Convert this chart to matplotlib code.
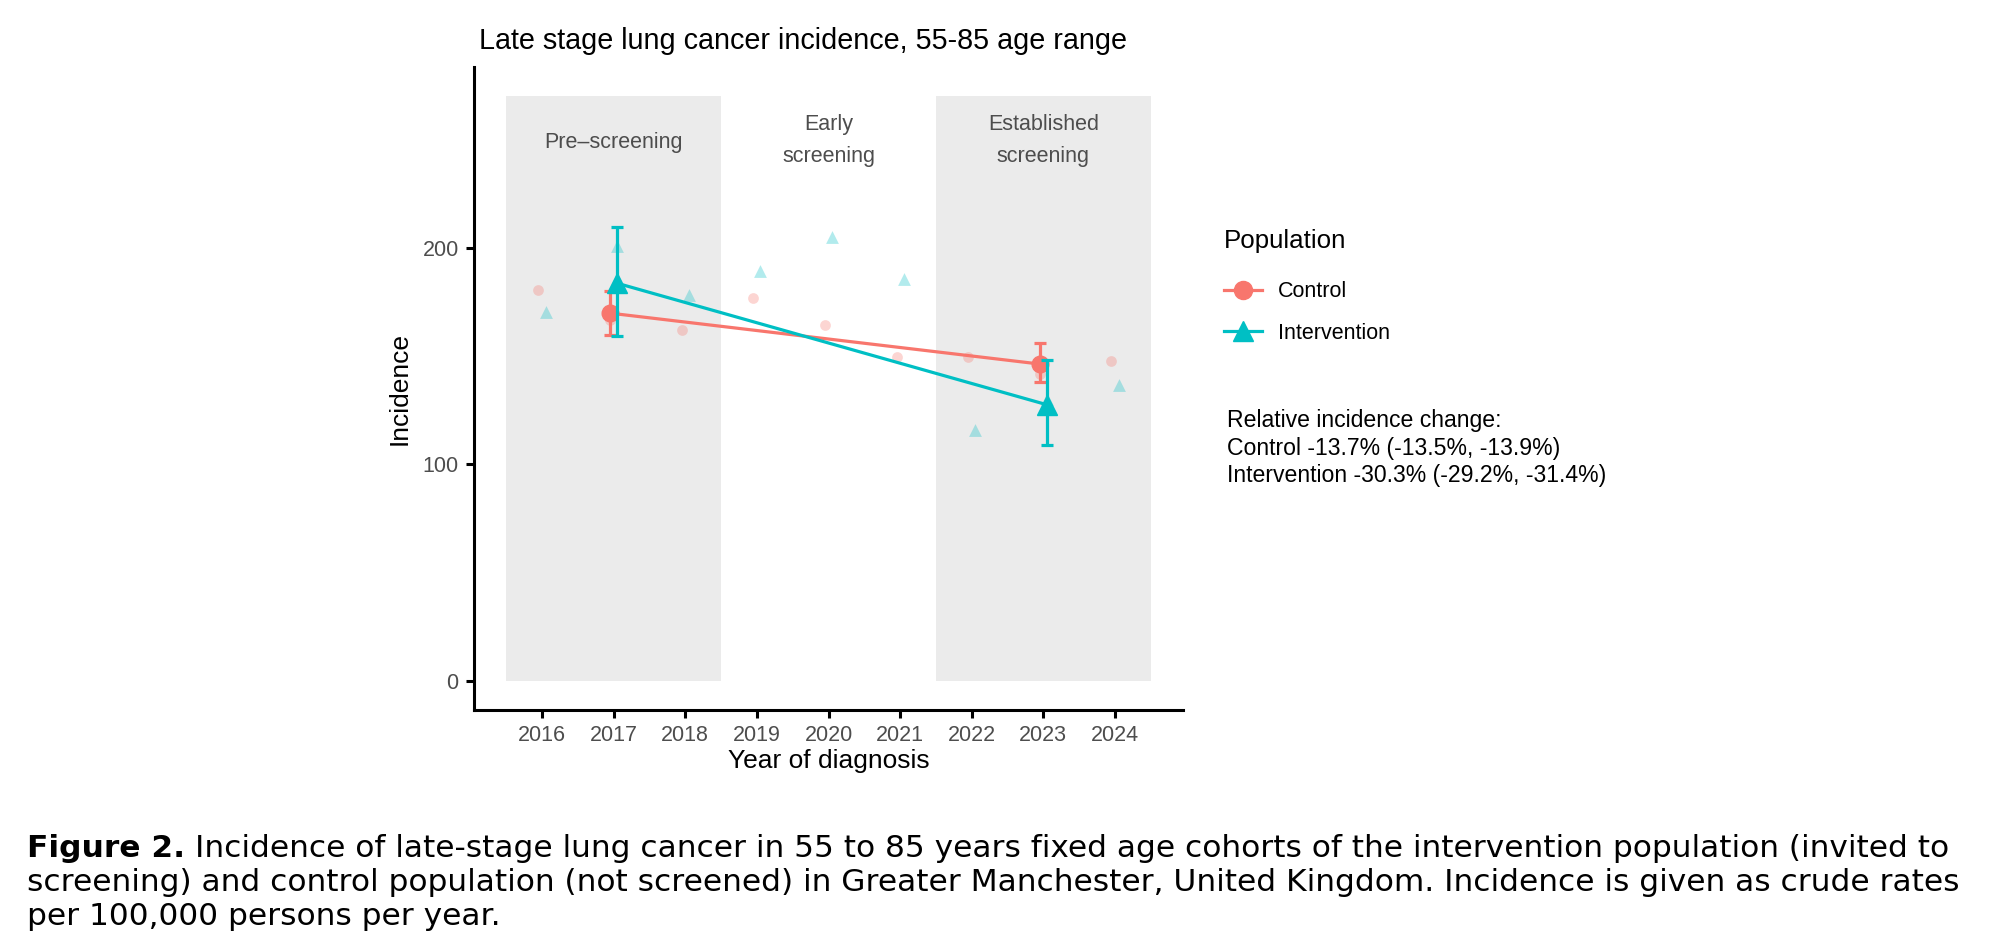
import matplotlib
matplotlib.use("Agg")
import matplotlib.pyplot as plt
from matplotlib.lines import Line2D

plt.rcParams['font.family'] = ['Liberation Sans', 'DejaVu Sans']

# yearly crude incidence (per 100,000)
years = [2016, 2017, 2018, 2019, 2020, 2021, 2022, 2023, 2024]
control = [180.6, 166.6, 162.2, 176.9, 164.2, 149.4, 149.4, 141.7, 147.8]
intervention = [170.5, 201.0, 178.4, 189.2, 205.2, 185.6, 115.7, 130.0, 136.7]

# period means with 95% CI
period_years = [2017, 2023]
control_mean = [169.8, 146.3]
control_lo = [159.9, 137.8]
control_hi = [180.2, 155.9]
interv_mean = [183.6, 127.5]
interv_lo = [159.1, 109.0]
interv_hi = [209.6, 148.1]

# shaded periods
periods = [(2015.5, 2018.5), (2021.5, 2024.5)]
period_labels = ["Pre\u2013screening", "Early\nscreening", "Established\nscreening"]
period_label_x = [2017, 2020, 2023]
period_label_y = [248.5, 249.5, 249.5]

c_col = "#F8766D"
i_col = "#00BFC4"
dodge = 0.05

W, H = 2002, 952
fig = plt.figure(figsize=(W / 100, H / 100), dpi=100)
ax = fig.add_axes([474 / W, (H - 710) / H, (1183 - 474) / W, (710 - 67) / H])

for a, b in periods:
    ax.fill_between([a, b], 0, 270, color="#EBEBEB", lw=0, zorder=0)

for lx, ly, lab in zip(period_label_x, period_label_y, period_labels):
    ax.text(lx, ly, lab, ha="center", va="center", fontsize=15.5, color="#4D4D4D",
            linespacing=1.72)

# faint yearly points
ax.scatter([y - dodge for y in years], control, s=60, color=c_col, alpha=0.3, lw=0, zorder=2)
ax.scatter([y + dodge for y in years], intervention, s=85, marker="^", color=i_col, alpha=0.3,
           lw=0, zorder=2)

# period means + lines
cx = [y - dodge for y in period_years]
ix = [y + dodge for y in period_years]
ax.plot(cx, control_mean, color=c_col, lw=2.3, zorder=3)
ax.plot(ix, interv_mean, color=i_col, lw=2.3, zorder=3)
ax.errorbar(cx, control_mean,
            yerr=[[m - l for m, l in zip(control_mean, control_lo)],
                  [h - m for m, h in zip(control_mean, control_hi)]],
            fmt="o", color=c_col, ms=12, elinewidth=2.3, capsize=4, capthick=2.3, zorder=4)
ax.errorbar(ix, interv_mean,
            yerr=[[m - l for m, l in zip(interv_mean, interv_lo)],
                  [h - m for m, h in zip(interv_mean, interv_hi)]],
            fmt="^", color=i_col, ms=14, elinewidth=2.3, capsize=4, capthick=2.3, zorder=5)

ax.set_xlim(2015.05, 2024.95)
ax.set_ylim(-13.5, 283.5)
ax.set_xticks(years)
ax.set_yticks([0, 100, 200])
for s in ["top", "right"]:
    ax.spines[s].set_visible(False)
for s in ["left", "bottom"]:
    ax.spines[s].set_linewidth(2.2)
ax.tick_params(width=2.2, length=6, labelsize=15.5, labelcolor="#4D4D4D", pad=5)
ax.set_xlabel("Year of diagnosis", fontsize=19, labelpad=2)
ax.set_ylabel("Incidence", fontsize=19, labelpad=8)
ax.set_facecolor("white")

fig.text(479 / W, 1 - 41 / H, "Late stage lung cancer incidence, 55-85 age range",
         fontsize=20.7, va="center", ha="left")

# legend
handles = [Line2D([], [], color=c_col, lw=2.3, marker="o", ms=13),
           Line2D([], [], color=i_col, lw=2.3, marker="^", ms=15)]
leg = fig.legend(handles, ["Control", "Intervention"], title="Population",
                 loc="upper left", bbox_to_anchor=(1205 / W, 1 - 210 / H),
                 frameon=False, fontsize=15.5, title_fontsize=18.6, handlelength=1.75,
                 labelspacing=0.95, alignment="left", handletextpad=0.75)
leg._legend_box.sep = 20

fig.text(1227 / W, 1 - 409 / H,
         "Relative incidence change:\nControl -13.7% (-13.5%, -13.9%)\n"
         "Intervention -30.3% (-29.2%, -31.4%)",
         fontsize=16.6, va="top", ha="left", linespacing=1.25)

# caption
cap_font = ["DejaVu Sans"]
t1 = fig.text(27 / W, 1 - 857 / H, "Figure 2.", fontsize=22.5, fontweight="bold",
              family=cap_font, va="baseline", ha="left")
fig.canvas.draw()
rend = fig.canvas.get_renderer()
fig.text(t1.get_window_extent(rend).x1 / W + 10 / W, 1 - 857 / H,
         "Incidence of late-stage lung cancer in 55 to 85 years fixed age cohorts of the "
         "intervention population (invited to",
         fontsize=22.5, family=cap_font, va="baseline", ha="left")
fig.text(27 / W, 1 - 891 / H,
         "screening) and control population (not screened) in Greater Manchester, United "
         "Kingdom. Incidence is given as crude rates",
         fontsize=22.5, family=cap_font, va="baseline", ha="left")
fig.text(27 / W, 1 - 925 / H, "per 100,000 persons per year.",
         fontsize=22.5, family=cap_font, va="baseline", ha="left")

fig.savefig("out.png", dpi=100)
